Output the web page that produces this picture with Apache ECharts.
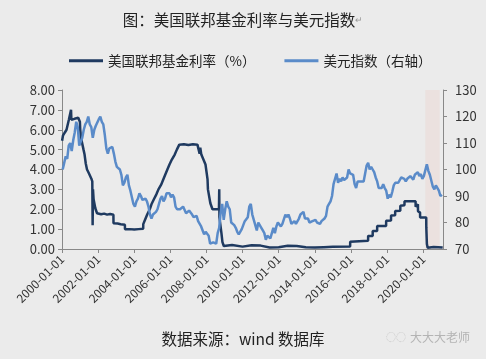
<!DOCTYPE html>
<html>
<head>
<meta charset="utf-8">
<script src="https://cdn.jsdelivr.net/npm/echarts@6/dist/echarts.min.js"></script>
<style>
html,body{margin:0;padding:0;background:#ebebeb;}
#chart{width:486px;height:359px;}
</style>
</head>
<body>
<div id="chart"></div>
<script>
// ---- data ----
var xTickYears = [2000, 2002, 2004, 2006, 2008, 2010, 2012, 2014, 2016, 2018, 2020];
var fedName = '美国联邦基金利率（%）';
var dxyName = '美元指数（右轴）';
var fedDates = ['2000-01-03','2000-01-20','2000-02-05','2000-02-25','2000-03-15','2000-04-01','2000-04-20','2000-05-18','2000-06-10','2000-07-01','2000-07-08','2000-08-10','2000-09-10','2000-10-20','2000-11-25','2000-12-28',
'2001-01-05','2001-01-20','2001-02-10','2001-03-10','2001-04-01','2001-04-25','2001-05-20','2001-06-20','2001-07-05','2001-08-15','2001-09-05','2001-09-12','2001-09-19','2001-10-01','2001-10-20','2001-11-05','2001-11-20','2001-12-10','2001-12-20',
'2002-03-01','2002-05-01','2002-07-01','2002-09-01','2002-11-06','2002-11-08','2003-02-01','2003-04-01','2003-06-25','2003-06-27','2003-10-01','2004-01-01','2004-04-01','2004-06-30',
'2004-07-01','2004-08-11','2004-09-22','2004-11-11','2004-12-15','2005-02-03','2005-03-23','2005-05-04','2005-07-01','2005-08-10','2005-09-21','2005-11-02','2005-12-14','2006-02-01','2006-03-29','2006-05-11','2006-06-30',
'2006-10-01','2007-01-01','2007-04-01','2007-07-01','2007-08-09','2007-08-15','2007-08-28','2007-09-19','2007-10-31','2007-12-12','2008-01-23','2008-01-31','2008-03-19','2008-05-01','2008-09-10','2008-09-16','2008-09-20','2008-10-09','2008-10-30','2008-11-20','2008-12-17',
'2009-06-01','2010-01-01','2010-07-01','2011-01-01','2011-07-01','2012-01-01','2012-07-01','2013-01-01','2013-07-01','2014-01-01','2014-07-01','2015-01-01','2015-12-16','2015-12-17','2016-12-14','2016-12-15',
'2017-03-15','2017-03-16','2017-06-14','2017-06-15','2017-12-13','2017-12-14','2018-03-21','2018-03-22','2018-06-13','2018-06-14','2018-09-26','2018-09-27','2018-12-19','2018-12-20',
'2019-07-31','2019-08-01','2019-09-17','2019-09-19','2019-10-30','2019-10-31','2020-03-03','2020-03-04','2020-03-16','2020-04-01','2020-08-01','2021-02-01'];
var fedValues = [5.45,5.7,5.6,5.85,5.75,6.0,6.05,6.5,6.6,7.0,6.5,6.5,6.55,6.45,6.6,6.4,
6.0,5.6,5.5,5.0,4.75,4.3,4.0,3.85,3.75,3.55,3.4,1.2,3.0,2.5,2.45,2.05,2.0,1.8,1.75,
1.75,1.78,1.73,1.76,1.72,1.3,1.28,1.25,1.22,1.0,1.0,0.98,1.0,1.02,
1.25,1.5,1.75,2.0,2.25,2.5,2.75,3.0,3.25,3.5,3.75,4.0,4.25,4.5,4.75,5.0,5.25,
5.27,5.23,5.27,5.25,5.3,4.8,5.1,4.75,4.5,4.25,3.5,3.0,2.3,2.0,2.0,3.0,1.6,1.2,0.8,0.35,0.15,
0.2,0.12,0.19,0.17,0.08,0.09,0.16,0.15,0.09,0.07,0.09,0.11,0.13,0.37,0.41,0.66,
0.66,0.91,0.91,1.16,1.16,1.42,1.44,1.68,1.70,1.91,1.92,2.18,2.20,2.40,
2.40,2.13,2.25,1.90,1.83,1.58,1.58,1.1,0.25,0.06,0.1,0.08];
// monthly dollar index, starting 2000-01
var dxyStart = '2000-01';
var dxyValues = [
100,102.5,105,104,109,110,107,111,114,118,116,109,
109.5,112,115,117,118,120,117,116,112,115,116.5,117,
119,120,118,117,113,108,106,108,108,108.5,106,103,
101,100.5,100,98,94,95,97,98,94,92,91.5,87,
86,88,89,91,90,88.5,88.5,89,88,86,83,81.5,
83,83.5,84,85,87,89,90,88,89,91,91.5,91,
89.5,90.5,89.5,86,85,85.5,85,85,86,85.5,83.5,83,
84.5,84,83,82,82.5,82.5,80.5,81,78.5,77,75.5,76.5,
76,75,72,72.5,72.5,72.5,72,76,78,84,87,81,
85,88,86,85,80,80,79,78,76.5,75.5,75,77.5,
79,80.5,81,82,86,87,83,82.5,79,77,80,80,
78,77,76,73.5,75,74.5,74,74,78,76,78.5,80,
80,78.5,79.5,79,83,82,83,81.5,79.5,80,80.5,79.5,
79.5,81.5,83,82.5,84,81.5,82,81.5,80,80,80.5,80.5,
81,80,80,79.5,80.5,80,81.5,82.5,86,87,88,90,
94.5,95,98.5,95,96.5,95.5,97,96,96,97,100,98.5,
99,98,94.5,93,95.5,95.5,95.5,96,95.5,98.5,101.5,102.5,
100,101,100,99,97,95.5,93,92.5,93,94.5,93,92,
89,90.5,89.5,91.5,94,95,94.5,95,94.5,97,97,96.5,
95.5,96.5,97,97.5,97.8,96.2,98,98.7,99,97.5,98.3,96.5,
97.5,98.2,102,99.5,98,97.3,93.5,92.5,94,94,92,90,
90.5];
var shadeDates = ['2020-02-15', '2020-12-01'];

// ---- helpers ----
function toYear(s) {
  var p = s.split('-');
  var y = +p[0], m = +p[1], d = p[2] ? +p[2] : 15;
  return y + (m - 1) / 12 + (d - 1) / 365;
}
var fedData = fedDates.map(function (d, i) { return [toYear(d), fedValues[i]]; });
var dxyY0 = toYear(dxyStart);
var dxyData = dxyValues.map(function (v, i) { return [dxyY0 + i / 12, v]; });

var chart = echarts.init(document.getElementById('chart'));
var font = '"Noto Sans CJK SC", "Noto Sans", sans-serif';
var option = {
  backgroundColor: '#ebebeb',
  animation: false,
  textStyle: { fontFamily: font },
  title: {
    text: '图：美国联邦基金利率与美元指数{r|↵}',
    left: 'center', top: 7,
    textStyle: { fontSize: 15.5, fontWeight: 'normal', color: '#222', fontFamily: font,
      rich: { r: { fontSize: 9, color: '#999' } } }
  },
  legend: {
    left: 64, top: 49, itemGap: 29, itemWidth: 34, itemHeight: 3, icon: 'rect',
    textStyle: { fontSize: 13.5, color: '#222', fontFamily: font },
    data: [fedName, dxyName]
  },
  grid: { left: 62, right: 43, top: 90, bottom: 110, containLabel: false },
  xAxis: {
    type: 'value', min: 2000, max: 2021.1, interval: 2,
    axisLine: { lineStyle: { color: '#888', width: 1 } },
    axisTick: { show: true, length: 4, lineStyle: { color: '#888' } },
    splitLine: { show: false },
    axisLabel: {
      rotate: 45, fontSize: 12, color: '#333', margin: 8, showMaxLabel: false,
      formatter: function (v) { return xTickYears.indexOf(Math.round(v)) >= 0 && Math.abs(v - Math.round(v)) < 1e-6 ? Math.round(v) + '-01-01' : ''; }
    }
  },
  yAxis: [{
    type: 'value', min: 0, max: 8, interval: 1, position: 'left',
    axisLine: { show: true, lineStyle: { color: '#888' } },
    axisTick: { show: true, length: 4, lineStyle: { color: '#888' } },
    splitLine: { show: false },
    axisLabel: { fontSize: 13, color: '#333', margin: 7, formatter: function (v) { return v.toFixed(2); } }
  }, {
    type: 'value', min: 70, max: 130, interval: 10, position: 'right',
    axisLine: { show: true, lineStyle: { color: '#888' } },
    axisTick: { show: true, length: 4, lineStyle: { color: '#888' } },
    splitLine: { show: false },
    axisLabel: { fontSize: 13, color: '#333', margin: 12 }
  }],
  series: [{
    name: fedName, type: 'line', yAxisIndex: 0, data: fedData, showSymbol: false, symbol: 'none',
    lineStyle: { color: '#1f3a60', width: 2.5 }, itemStyle: { color: '#1f3a60' }, z: 3
  }, {
    name: dxyName, type: 'line', yAxisIndex: 1, data: dxyData, showSymbol: false, symbol: 'none',
    lineStyle: { color: '#5a8bc9', width: 2.5 }, itemStyle: { color: '#5a8bc9' }, z: 4,
    markArea: {
      silent: true, z: 1,
      itemStyle: { color: '#ebe1df' },
      data: [[{ xAxis: toYear(shadeDates[0]) }, { xAxis: toYear(shadeDates[1]) }]]
    }
  }],
  graphic: [{
    type: 'text', left: 'center', top: 331,
    style: { text: '数据来源：wind 数据库', font: '15.5px ' + font, fill: '#222' }
  }, {
    type: 'text', left: 410, top: 331,
    style: { text: '大大大老师', font: '12px ' + font, fill: '#b4b4b4' }
  }, {
    type: 'text', left: 386, top: 332,
    style: { text: '◌◌', font: '10px ' + font, fill: '#c4c4c4' }
  }]
};
chart.setOption(option);
</script>
</body>
</html>
